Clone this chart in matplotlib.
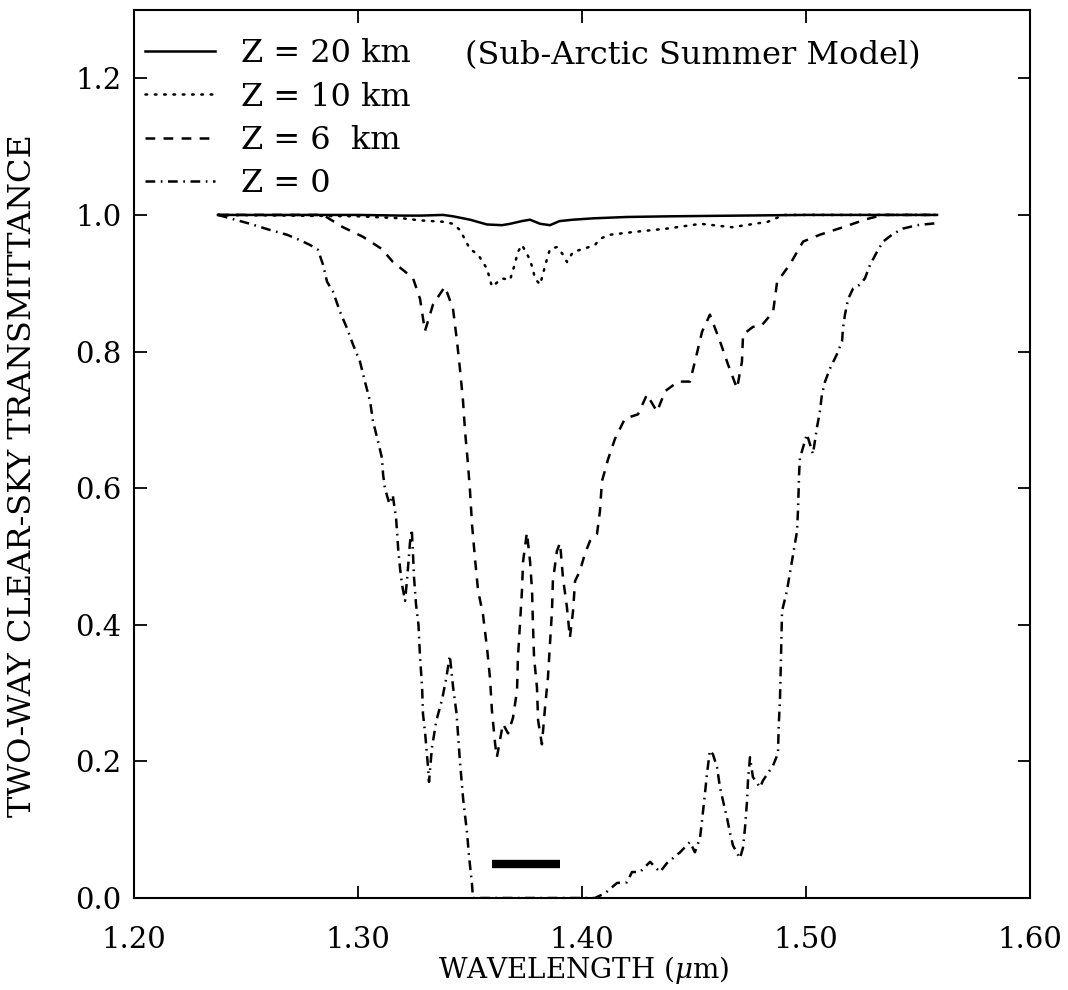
import numpy as np
import matplotlib
matplotlib.use("Agg")
import matplotlib.pyplot as plt
from matplotlib.ticker import FormatStrFormatter

plt.rcParams['font.family'] = ['DejaVu Serif']
plt.rcParams['mathtext.fontset'] = 'dejavuserif'
plt.rcParams['lines.scale_dashes'] = False

wl_20 = [1.2375, 1.26, 1.28, 1.30, 1.32, 1.328, 1.338, 1.3424, 1.35, 1.3576, 1.3643,
         1.3679, 1.3732, 1.3768, 1.3813, 1.3857, 1.390, 1.396, 1.405, 1.42, 1.44,
         1.47, 1.50, 1.53, 1.5585]
tr_20 = [1.0, 1.0, 1.0, 1.0, 0.999, 0.999, 1.0, 0.998, 0.993, 0.986, 0.985,
         0.987, 0.991, 0.993, 0.987, 0.985, 0.991, 0.993, 0.995, 0.997, 0.998,
         0.999, 1.0, 1.0, 1.0]

wl_10 = [1.2375, 1.27, 1.30, 1.32, 1.3277, 1.338, 1.3424, 1.3455, 1.35, 1.3536,
         1.3576, 1.3598, 1.3643, 1.3679, 1.370, 1.3714, 1.3732, 1.3754, 1.3768,
         1.3781, 1.379, 1.3813, 1.3826, 1.3844, 1.3857, 1.3888, 1.3915, 1.3933,
         1.396, 1.4004, 1.4058, 1.408, 1.4125, 1.423, 1.438, 1.453, 1.467, 1.483,
         1.490, 1.52, 1.5585]
tr_10 = [1.0, 0.999, 0.998, 0.995, 0.992, 0.99, 0.987, 0.978, 0.95, 0.942,
         0.921, 0.895, 0.907, 0.905, 0.928, 0.946, 0.956, 0.943, 0.934,
         0.92, 0.907, 0.898, 0.914, 0.936, 0.95, 0.953, 0.942, 0.931,
         0.946, 0.95, 0.956, 0.965, 0.971, 0.975, 0.98, 0.987, 0.982, 0.99,
         1.0, 1.0, 1.0]

wl_6 = [1.2375, 1.2844, 1.2933, 1.3022, 1.3107, 1.3156, 1.321, 1.3246, 1.3277,
        1.3299, 1.3335, 1.3388, 1.3424, 1.3442, 1.3455, 1.3469, 1.3478, 1.3491,
        1.35, 1.3509, 1.3522, 1.3536, 1.3558, 1.3576, 1.3589, 1.3598, 1.3612,
        1.362, 1.3647, 1.367, 1.3692, 1.371, 1.3714, 1.3723, 1.3732, 1.3737,
        1.3754, 1.3768, 1.3777, 1.3781, 1.3786, 1.3799, 1.3804, 1.3821, 1.3835,
        1.3848, 1.3857, 1.3866, 1.387, 1.3888, 1.3902, 1.3915, 1.3933, 1.3946,
        1.396, 1.3969, 1.3991, 1.4013, 1.4036, 1.4067, 1.408, 1.4089, 1.4116,
        1.4147, 1.4192, 1.425, 1.429, 1.4335, 1.4371, 1.4429, 1.4482, 1.4504,
        1.4536, 1.4571, 1.4616, 1.4652, 1.4692, 1.4714, 1.4719, 1.4763, 1.4804,
        1.4853, 1.4871, 1.4929, 1.4987, 1.5062, 1.5165, 1.5272, 1.5344, 1.5585]
tr_6 = [1.0, 1.0, 0.982, 0.968, 0.95, 0.931, 0.917, 0.907, 0.877,
        0.83, 0.869, 0.895, 0.863, 0.815, 0.775, 0.727, 0.683, 0.635,
        0.596, 0.547, 0.498, 0.45, 0.415, 0.366, 0.323, 0.274, 0.226,
        0.206, 0.255, 0.241, 0.264, 0.304, 0.352, 0.401, 0.45, 0.493,
        0.535, 0.493, 0.45, 0.401, 0.352, 0.308, 0.26, 0.225, 0.279,
        0.323, 0.372, 0.42, 0.464, 0.508, 0.52, 0.469, 0.425, 0.381,
        0.42, 0.464, 0.479, 0.504, 0.523, 0.533, 0.566, 0.61, 0.642,
        0.672, 0.702, 0.708, 0.737, 0.712, 0.742, 0.756, 0.756, 0.785,
        0.829, 0.854, 0.815, 0.781, 0.746, 0.785, 0.825, 0.836, 0.839,
        0.858, 0.902, 0.928, 0.961, 0.971, 0.982, 0.994, 1.0, 1.0]

wl_0 = [1.2375, 1.2518, 1.2607, 1.2683, 1.2741, 1.2786, 1.2821, 1.2844, 1.2862,
        1.2888, 1.292, 1.2951, 1.2978, 1.3009, 1.3031, 1.3054, 1.3067, 1.3089,
        1.3107, 1.3112, 1.312, 1.314, 1.3155, 1.317, 1.3175, 1.318, 1.3188,
        1.3196, 1.321, 1.322, 1.3232, 1.324, 1.3246, 1.325, 1.3259, 1.327,
        1.3277, 1.3286, 1.329, 1.330, 1.3313, 1.3317, 1.333, 1.335, 1.3375,
        1.3393, 1.341, 1.3424, 1.344, 1.3455, 1.347, 1.3487, 1.3496, 1.3509,
        1.3513, 1.38, 1.4058, 1.4103, 1.4156, 1.4201, 1.4223, 1.4259, 1.4304,
        1.4348, 1.4379, 1.4438, 1.4482, 1.4504, 1.4527, 1.4536, 1.4549, 1.4558,
        1.4571, 1.4585, 1.4603, 1.4616, 1.4629, 1.4647, 1.4661, 1.4674, 1.4705,
        1.4719, 1.4728, 1.4737, 1.4741, 1.475, 1.4763, 1.4795, 1.4808, 1.4853,
        1.4875, 1.4878, 1.4884, 1.4888, 1.4893, 1.4915, 1.496, 1.4964, 1.4967,
        1.4969, 1.4973, 1.5004, 1.5031, 1.5049, 1.5062, 1.5071, 1.5085, 1.5107,
        1.5138, 1.5161, 1.5165, 1.5174, 1.5188, 1.521, 1.5241, 1.5263, 1.5286,
        1.5317, 1.5344, 1.5388, 1.5433, 1.5496, 1.5585]
tr_0 = [1.0, 0.987, 0.978, 0.971, 0.963, 0.956, 0.949, 0.927, 0.902,
        0.888, 0.858, 0.834, 0.81, 0.785, 0.756, 0.727, 0.698, 0.669,
        0.644, 0.62, 0.60, 0.577, 0.59, 0.556, 0.533, 0.508, 0.482,
        0.46, 0.435, 0.47, 0.52, 0.54, 0.50, 0.47, 0.43, 0.40,
        0.352, 0.31, 0.27, 0.24, 0.19, 0.17, 0.22, 0.26, 0.29,
        0.32, 0.355, 0.31, 0.27, 0.20, 0.143, 0.095, 0.06, 0.02,
        0.0, 0.0, 0.0, 0.007, 0.022, 0.023, 0.038, 0.038, 0.053,
        0.038, 0.051, 0.067, 0.082, 0.067, 0.088, 0.114, 0.153, 0.182,
        0.216, 0.21, 0.191, 0.162, 0.143, 0.118, 0.095, 0.077, 0.058,
        0.074, 0.104, 0.143, 0.172, 0.206, 0.177, 0.162, 0.172, 0.194,
        0.212, 0.25, 0.293, 0.347, 0.42, 0.45, 0.537, 0.566, 0.596,
        0.62, 0.644, 0.679, 0.65, 0.689, 0.712, 0.737, 0.756, 0.775,
        0.796, 0.815, 0.834, 0.854, 0.877, 0.892, 0.898, 0.907, 0.927,
        0.946, 0.961, 0.972, 0.98, 0.985, 0.988]

# window marker
bar_wl = [1.36, 1.39]
bar_tr = [0.05, 0.05]

labels = ['Z = 20 km', 'Z = 10 km', 'Z = 6  km', 'Z = 0']

fig = plt.figure(figsize=(10.68, 9.9), dpi=100)
ax = fig.add_axes([134 / 1068, 92 / 990, 896 / 1068, 888 / 990])

lw = 1.8
ax.plot(wl_20, tr_20, color='black', lw=lw, label=labels[0])
ax.plot(wl_10, tr_10, color='black', lw=lw, dashes=(1.2, 5.5),
        dash_capstyle='round', label=labels[1])
ax.plot(wl_6, tr_6, color='black', lw=lw, dashes=(7, 6), label=labels[2])
ax.plot(wl_0, tr_0, color='black', lw=lw, dashes=(7, 4, 1.2, 4), label=labels[3])
ax.plot(bar_wl, bar_tr, color='black', lw=6, solid_capstyle='butt')

ax.set_xlim(1.2, 1.6)
ax.set_ylim(0, 1.3)
ax.set_xticks(np.arange(1.2, 1.61, 0.1))
ax.set_yticks(np.arange(0, 1.21, 0.2))
ax.xaxis.set_major_formatter(FormatStrFormatter('%.2f'))
ax.yaxis.set_major_formatter(FormatStrFormatter('%.1f'))
ax.tick_params(direction='in', length=9, width=1.3, top=True, right=True,
               labelsize=21)
ax.tick_params(axis='x', pad=20)
ax.tick_params(axis='y', pad=9)
for s in ax.spines.values():
    s.set_linewidth(1.5)

ax.set_xlabel(r'WAVELENGTH ($\mu$m)', fontsize=20)
ax.set_ylabel('TWO-WAY CLEAR-SKY TRANSMITTANCE', fontsize=23)
ax.xaxis.set_label_coords(0.502, -0.0635)
ax.yaxis.set_label_coords(-0.107, 0.476)

ax.legend(loc='upper left', bbox_to_anchor=(0.012, 0.968), frameon=False,
          fontsize=23, handlelength=2.2, handletextpad=0.8, labelspacing=0.38,
          borderpad=0, borderaxespad=0)
ax.text(0.369, 0.949, '(Sub-Arctic Summer Model)', transform=ax.transAxes,
        fontsize=23, va='center', ha='left')

fig.savefig('out.png', dpi=100)
